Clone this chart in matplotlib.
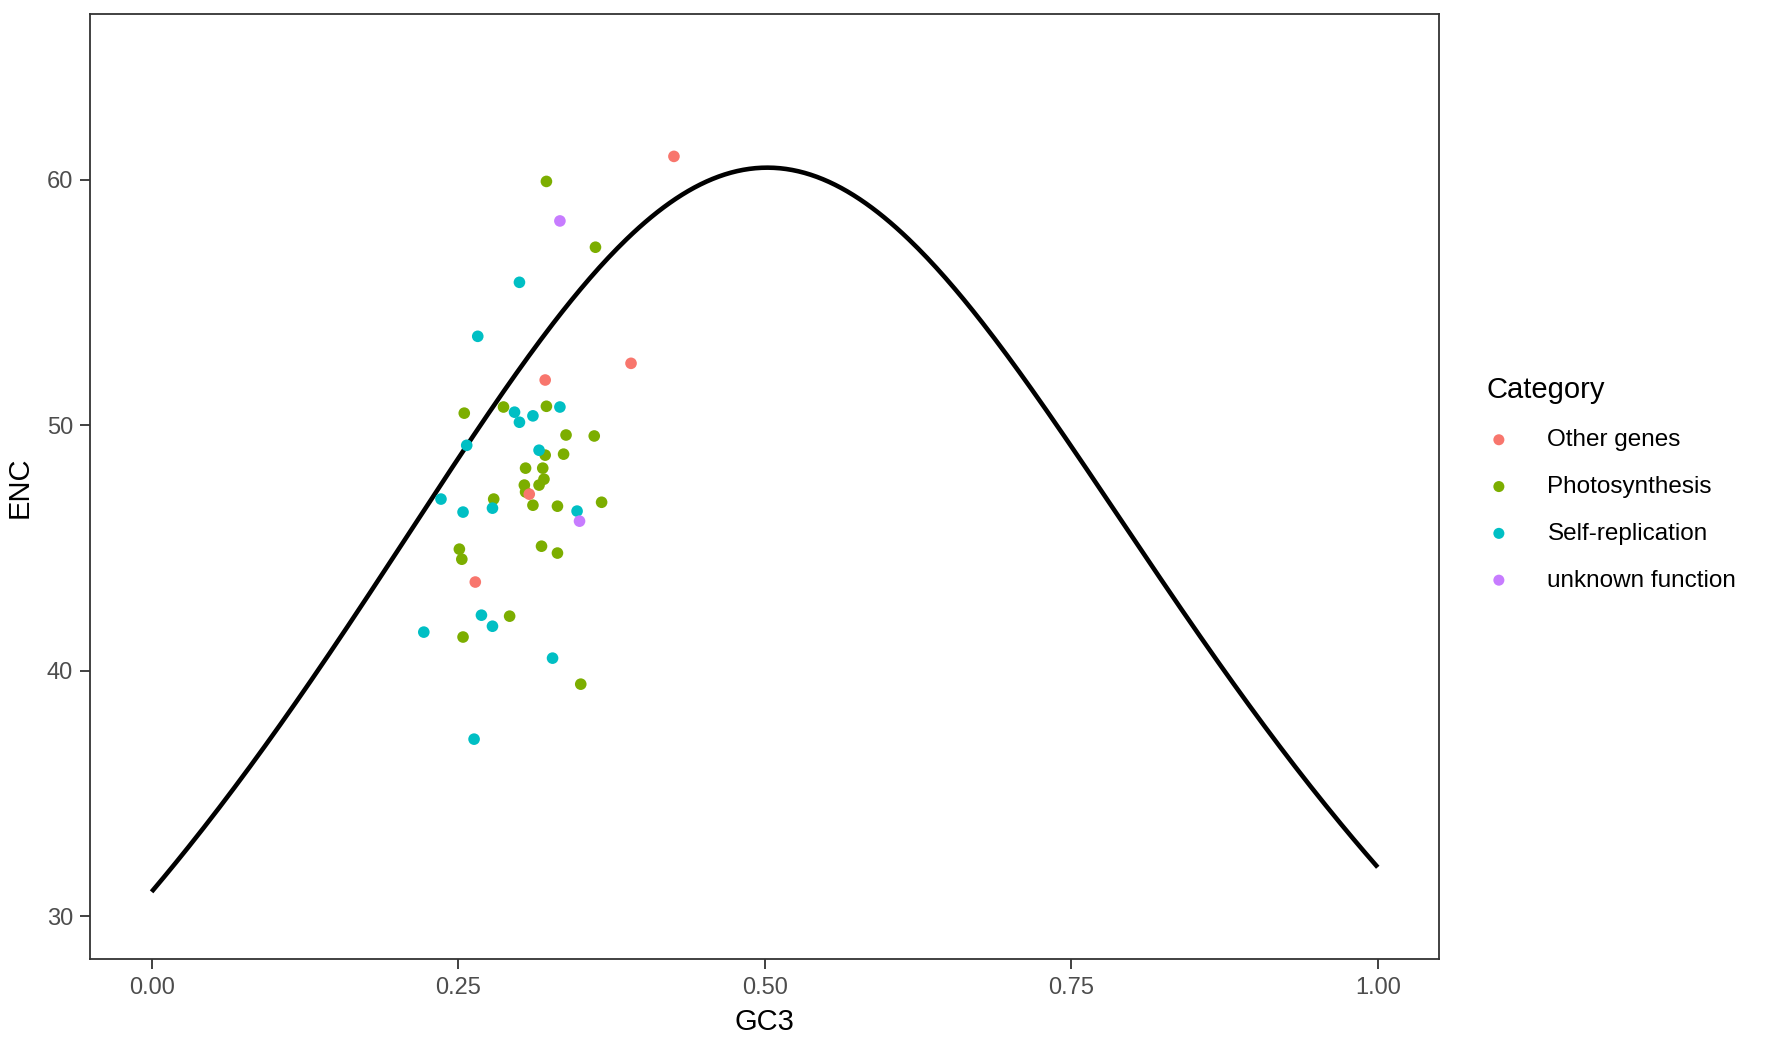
import numpy as np
import matplotlib.pyplot as plt

plt.rcParams['font.family'] = ['Liberation Sans', 'DejaVu Sans']

categories = ["Other genes", "Photosynthesis", "Self-replication", "unknown function"]
colors = ["#F8766D", "#7CAE00", "#00BFC4", "#C77CFF"]

# GC3 / ENC values per category
otherGC3 = [0.426, 0.391, 0.321, 0.264, 0.308]
otherENC = [60.96, 52.53, 51.85, 43.62, 47.20]

photoGC3 = [0.322, 0.362, 0.255, 0.287, 0.322, 0.338, 0.361, 0.321, 0.336, 0.305,
            0.319, 0.320, 0.304, 0.316, 0.305, 0.279, 0.311, 0.331, 0.367, 0.251,
            0.253, 0.318, 0.331, 0.292, 0.254, 0.350]
photoENC = [59.94, 57.26, 50.50, 50.75, 50.78, 49.61, 49.57, 48.79, 48.83, 48.26,
            48.26, 47.81, 47.57, 47.57, 47.29, 47.00, 46.75, 46.71, 46.87, 44.96,
            44.55, 45.08, 44.80, 42.23, 41.38, 39.46]

selfGC3 = [0.300, 0.266, 0.296, 0.300, 0.311, 0.333, 0.257, 0.316, 0.236, 0.254,
           0.278, 0.347, 0.269, 0.278, 0.222, 0.327, 0.263]
selfENC = [55.83, 53.63, 50.54, 50.13, 50.39, 50.75, 49.19, 48.99, 47.00, 46.47,
           46.63, 46.51, 42.27, 41.82, 41.58, 40.52, 37.22]

unknownGC3 = [0.333, 0.349]
unknownENC = [58.33, 46.10]

# expected ENC curve (Wright 1990): ENC = 2 + s + 29 / (s^2 + (1 - s)^2)
gcCurve = np.linspace(0, 1, 401)
encCurve = 2 + gcCurve + 29 / (gcCurve**2 + (1 - gcCurve)**2)

fig = plt.figure(figsize=(17.67, 10.48), dpi=100)
ax = fig.add_axes([0.0511, 0.0846, 0.7633, 0.9018])

ax.plot(gcCurve, encCurve, c='black', lw=3.3, zorder=2, solid_capstyle='butt')

handles = {}
drawOrder = [(1, photoGC3, photoENC), (2, selfGC3, selfENC),
             (0, otherGC3, otherENC), (3, unknownGC3, unknownENC)]
for catIdx, xs, ys in drawOrder:
    handles[catIdx] = ax.scatter(xs, ys, s=70, c=colors[catIdx], edgecolors='none',
                                 label=categories[catIdx], zorder=3)

ax.set_xlim(-0.05, 1.05)
ax.set_ylim(28.25, 66.75)
ax.set_xticks([0, 0.25, 0.5, 0.75, 1.0])
ax.set_xticklabels(["0.00", "0.25", "0.50", "0.75", "1.00"])
ax.set_yticks([30, 40, 50, 60])
ax.tick_params(labelsize=17, colors='#333333', labelcolor='#4D4D4D', length=7.5, width=1.3, pad=5)
for sp in ax.spines.values():
    sp.set_color('#333333')
    sp.set_linewidth(1.3)
ax.set_xlabel("GC3", fontsize=21, labelpad=7)
ax.set_ylabel("ENC", fontsize=21, labelpad=9)

leg = fig.legend([handles[i] for i in range(4)], categories, loc='upper left',
                 bbox_to_anchor=(0.8345, 0.6525), frameon=False, title="Category",
                 title_fontsize=21, fontsize=17.5, alignment='left', borderpad=0,
                 labelspacing=1.02, handletextpad=1.5, markerscale=0.95, handlelength=1.0)

plt.savefig("out.png", dpi=100)
plt.close()
